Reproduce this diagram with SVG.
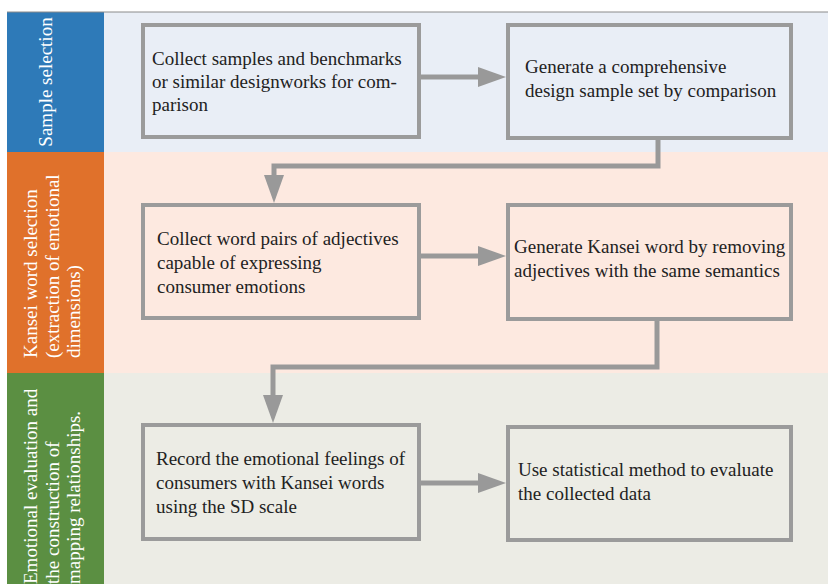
<svg xmlns="http://www.w3.org/2000/svg" width="828" height="584" viewBox="0 0 828 584">
<defs>
<style>
text{font-family:'Liberation Serif','Tinos','Times New Roman','DejaVu Serif',serif;font-size:19px;}
.lane-label{fill:#ffffff;}
.box{fill:none;stroke:#9b9b9b;stroke-width:4;}
.txt{fill:#222222;}
.conn{fill:none;stroke:#999999;stroke-width:5;stroke-linejoin:miter;}
</style>
<marker id="ah" markerUnits="userSpaceOnUse" markerWidth="28" markerHeight="20" refX="0" refY="10" orient="auto">
<path d="M0,0 L28,10 L0,20 z" fill="#999999"/>
</marker>
</defs>
<rect x="0" y="0" width="828" height="584" fill="#ffffff"/>
<g id="lanes">
<rect x="104" y="12" width="724" height="140" fill="#e9eef6"/>
<rect x="104" y="152" width="724" height="221" fill="#fde9e0"/>
<rect x="104" y="373" width="724" height="211" fill="#ececE5"/>
<rect x="7" y="12" width="97" height="140" fill="#2e7ab8"/>
<rect x="7" y="152" width="97" height="221" fill="#e0712b"/>
<rect x="7" y="373" width="97" height="211" fill="#5b8f42"/>
<line x1="7" y1="12" x2="828" y2="12" stroke="#8a8a8a" stroke-width="1"/>
<text class="lane-label" font-family="Liberation Serif, serif" transform="translate(52,82) rotate(-90)" text-anchor="middle">Sample selection</text>
<text class="lane-label" transform="translate(37,358) rotate(-90)">Kansei word selection</text>
<text class="lane-label" transform="translate(58.5,358) rotate(-90)">(extraction of emotional</text>
<text class="lane-label" transform="translate(80,358) rotate(-90)">dimensions)</text>
<text class="lane-label" transform="translate(37,584) rotate(-90)">Emotional evaluation and</text>
<text class="lane-label" transform="translate(58.5,584) rotate(-90)">the construction of</text>
<text class="lane-label" transform="translate(80,584) rotate(-90)">mapping relationships.</text>
</g>
<g id="node1">
<rect class="box" x="143" y="25" width="276" height="112"/>
<text class="txt" x="152" y="65">Collect samples and benchmarks</text>
<text class="txt" x="152" y="88">or similar designworks for com-</text>
<text class="txt" x="152" y="111">parison</text>
</g>
<g id="node2">
<rect class="box" x="508" y="25" width="283" height="113"/>
<text class="txt" x="525" y="73">Generate a comprehensive</text>
<text class="txt" x="525" y="97">design sample set by comparison</text>
</g>
<g id="node3">
<rect class="box" x="143" y="205" width="276" height="113"/>
<text class="txt" x="157" y="245">Collect word pairs of adjectives</text>
<text class="txt" x="157" y="269">capable of expressing</text>
<text class="txt" x="157" y="293">consumer emotions</text>
</g>
<g id="node4">
<rect class="box" x="508" y="205" width="283" height="114"/>
<text class="txt" x="514" y="253">Generate Kansei word by removing</text>
<text class="txt" x="514" y="277">adjectives with the same semantics</text>
</g>
<g id="node5">
<rect class="box" x="143" y="425" width="276" height="114"/>
<text class="txt" x="156" y="465">Record the emotional feelings of</text>
<text class="txt" x="156" y="489">consumers with Kansei words</text>
<text class="txt" x="156" y="513">using the SD scale</text>
</g>
<g id="node6">
<rect class="box" x="508" y="427" width="283" height="113"/>
<text class="txt" x="518" y="476">Use statistical method to evaluate</text>
<text class="txt" x="518" y="500">the collected data</text>
</g>
<g id="connectors">
<path class="conn" d="M421,77 H478" marker-end="url(#ah)"/>
<path class="conn" d="M421,256 H478" marker-end="url(#ah)"/>
<path class="conn" d="M421,483 H478" marker-end="url(#ah)"/>
<path class="conn" d="M658,140 V166 H274 V175" marker-end="url(#ah)"/>
<path class="conn" d="M657,321 V367 H273 V395" marker-end="url(#ah)"/>
</g>
</svg>
